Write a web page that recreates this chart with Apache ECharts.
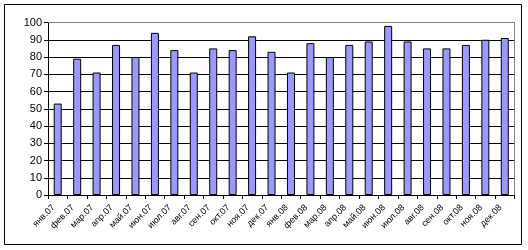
<!DOCTYPE html>
<html><head><meta charset="utf-8">
<script src="https://cdn.jsdelivr.net/npm/echarts@6/dist/echarts.min.js"></script>
<style>html,body{margin:0;padding:0;background:#fff}#c{width:528px;height:250px}</style>
</head><body><div id="c"></div>
<script>
const categories = ['янв.07','фев.07','мар.07','апр.07','май.07','июн.07','июл.07','авг.07','сен.07','окт.07','ноя.07','дек.07','янв.08','фев.08','мар.08','апр.08','май.08','июн.08','июл.08','авг.08','сен.08','окт.08','ноя.08','дек.08'];
const values = [53,79,71,87,80,94,84,71,85,84,92,83,71,88,80,87,89,98,89,85,85,87,90,91];
const yTicks = {min:0, max:100, interval:10};
const chart = echarts.init(document.getElementById('c'), null, {renderer:'canvas'});
chart.setOption({
  animation:false,
  graphic:[
    {type:'rect', shape:{x:4.5,y:4.5,width:517,height:240}, style:{fill:'none',stroke:'#000',lineWidth:1}, z:-1},
    {type:'polyline', shape:{points:[[48,22.5],[514.5,22.5],[514.5,195]]}, style:{fill:'none',stroke:'#808080',lineWidth:1}, z:10}
  ],
  grid:{left:48, right:13.5, top:22.5, bottom:55},
  xAxis:{
    type:'category', data:categories,
    axisLine:{lineStyle:{color:'#000',width:1}},
    axisTick:{show:true, length:4, lineStyle:{color:'#000'}},
    axisLabel:{rotate:45, fontSize:9, fontFamily:'Liberation Sans, Arial', color:'#000', margin:7, interval:0, padding:[0,6,12,0]}
  },
  yAxis:{
    type:'value', min:yTicks.min, max:yTicks.max, interval:yTicks.interval,
    axisLine:{show:true, lineStyle:{color:'#000',width:1}},
    axisTick:{show:true, length:4, lineStyle:{color:'#000'}},
    axisLabel:{fontSize:11, fontFamily:'Liberation Sans, Arial', color:'#000', margin:6},
    splitLine:{show:true, lineStyle:{color:'#000',width:1}}
  },
  series:[{
    type:'bar', data:values, barWidth:8,
    itemStyle:{color:'#9999FF', borderColor:'#000', borderWidth:1}
  }]
});
</script></body></html>
